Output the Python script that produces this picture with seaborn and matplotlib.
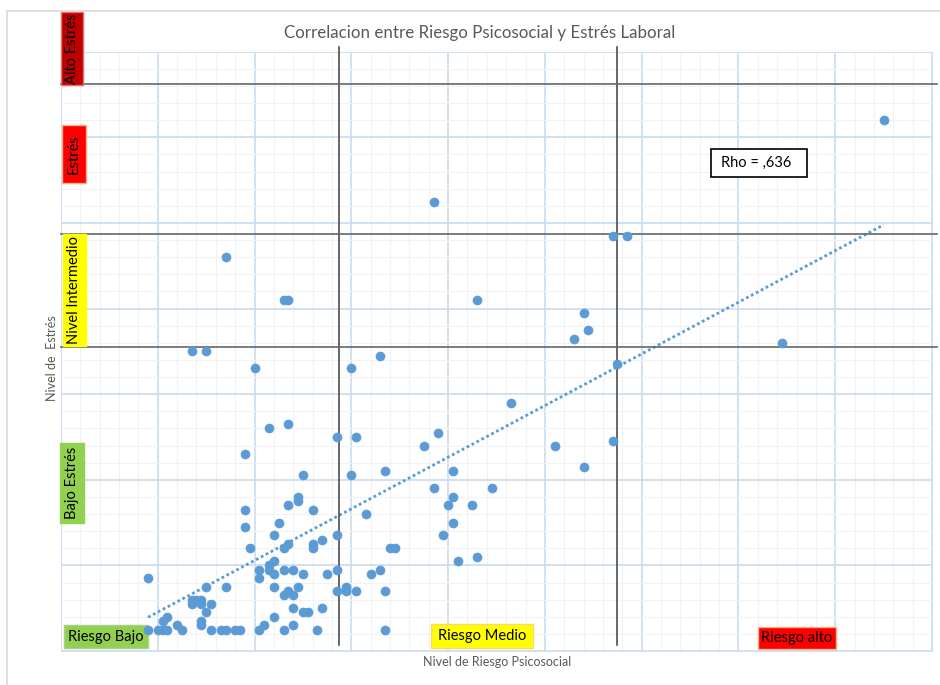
import numpy as np
import pandas as pd
import seaborn as sns
import matplotlib.pyplot as plt
from matplotlib.patches import Rectangle

# nivel de riesgo psicosocial (x) y nivel de estres (y)
riesgo = [170, 77, 114, 117, 34, 46, 47, 86, 108, 109, 106, 149, 27, 30, 66, 40, 60, 115,
          93, 43, 47, 57, 61, 78, 75, 102, 114, 38, 81, 108, 67, 60, 50, 77, 89, 49, 49, 81,
          47, 80, 85, 38, 52, 63, 45, 81, 38, 44, 57, 79, 47, 46, 52, 52, 54, 39, 68, 69,
          82, 86, 41, 41, 43, 43, 44, 44, 46, 48, 50, 55, 57, 64, 66, 18, 30, 34, 44, 49,
          46, 47, 48, 57, 59, 59, 61, 67, 27, 28, 29, 27, 29, 31, 30, 22, 21, 29, 29, 24,
          44, 48, 48, 50, 51, 54, 42,
          18, 20, 21, 22, 25, 31, 33, 34, 36, 37, 41, 46, 53, 67]
estres = [124, 105, 97, 97, 92, 82, 82, 82, 79, 75, 73, 72, 70, 70, 69, 66, 66, 67,
          58, 52, 53, 50, 50, 51, 48, 48, 49, 46, 42, 43, 42, 41, 41, 38, 38, 36, 35, 36,
          34, 34, 34, 33, 33, 32, 30, 30, 29, 27, 27, 27, 25, 24, 25, 24, 26, 24, 24, 24,
          21, 22, 19, 17, 20, 19, 21, 18, 19, 19, 18, 18, 19, 18, 19, 17, 15, 15, 15, 15,
          13, 14, 13, 14, 15, 14, 14, 14, 12, 12, 12, 11, 11, 11, 9, 8, 7, 7, 6, 6,
          8, 6, 10, 9, 9, 10, 6,
          5, 5, 5, 5, 5, 5, 5, 5, 5, 5, 5, 5, 5, 5]

# cortes de riesgo (lineas verticales) y de estres (lineas horizontales)
cortes_riesgo = [57.5, 115]
cortes_estres = [132.5, 97.5, 71]

rho_texto = 'Rho = ,636'

df = pd.DataFrame({'riesgo': riesgo, 'estres': estres})

W, H = 940, 685
plt.rcParams['font.family'] = ['Lato', 'DejaVu Sans']
fig = plt.figure(figsize=(W / 100, H / 100), dpi=100)
ax = fig.add_axes([61 / W, 1 - 651 / H, (932 - 61) / W, (651 - 51.7) / H])

BLUE = '#5B9BD5'
sns.scatterplot(data=df, x='riesgo', y='estres', ax=ax, color=BLUE, s=42,
                edgecolor=BLUE, linewidth=0.5, zorder=6)
sns.regplot(data=df, x='riesgo', y='estres', ax=ax, scatter=False, ci=None, truncate=True,
            line_kws={'color': BLUE, 'ls': (0, (1, 1)), 'lw': 2})

ax.set_xlim(0, 180)
ax.set_ylim(0, 140)
ax.set_xticks(np.arange(0, 181, 20))
ax.set_xticks(np.arange(0, 181, 4), minor=True)
ax.set_yticks(np.arange(0, 141, 20))
ax.set_yticks(np.arange(0, 141, 4), minor=True)
ax.tick_params(which='both', length=0, labelbottom=False, labelleft=False)
ax.grid(which='major', color='#C9DBEF', lw=1.2, zorder=0)
ax.grid(which='minor', color='#F0F2F6', lw=0.8, zorder=0)
ax.set_axisbelow(True)
for s in ax.spines.values():
    s.set_color('#D3E1F2')
ax.set_xlabel('')
ax.set_ylabel('')

# lineas de corte
for c in cortes_riesgo:
    ax.plot([c, c], [1.5, 141], color='#4D4D4D', lw=1.2, clip_on=False, zorder=3)
for c in cortes_estres:
    ax.plot([0, 181], [c, c], color='#666666', lw=1.2, clip_on=False, zorder=3)


def box(x0, y0, x1, y1, fc, ec, text, rot=0, size=10.5):
    # caja de etiqueta en pixeles de la figura (y desde arriba)
    r = Rectangle((x0 / W, 1 - y1 / H), (x1 - x0) / W, (y1 - y0) / H, transform=fig.transFigure,
                  facecolor=fc, edgecolor=ec, lw=1, clip_on=False, zorder=4)
    ax.add_patch(r)
    ax.text((x0 + x1) / 2 / W, 1 - (y0 + y1) / 2 / H, text, transform=fig.transFigure,
            rotation=rot, ha='center', va='center', fontsize=size, color='black', zorder=5)


box(61, 12, 83, 85, '#C00000', '#E07070', 'Alto Estrés', 90)
box(62, 125, 86, 183, '#FF0000', '#F4B183', 'Estrés', 90)
box(63, 234, 86, 346, '#FFFF00', '#FFFF00', 'Nivel Intermedio', 90)
box(60, 443, 84, 523, '#92D050', '#92D050', 'Bajo Estrés', 90)
box(64, 625, 148, 648, '#92D050', '#A9D18E', 'Riesgo Bajo')
box(431, 624, 533, 648, '#FFFF00', '#FFD966', 'Riesgo Medio')
box(758, 627, 836, 649, '#FF0000', '#F4B183', 'Riesgo alto')

# caja del coeficiente
ax.add_patch(Rectangle((711 / W, 1 - 177 / H), 96 / W, 28 / H, transform=fig.transFigure,
                       facecolor='white', edgecolor='black', lw=1.2, zorder=4))
ax.text(721 / W, 1 - 163 / H, rho_texto, transform=fig.transFigure, ha='left', va='center',
        fontsize=10.5, color='black', zorder=5)

fig.text(480 / W, 1 - 33 / H, 'Correlacion entre Riesgo Psicosocial y Estrés Laboral',
         ha='center', va='center', fontsize=12.2, color='#595959')
fig.text(497 / W, 1 - 662 / H, 'Nivel de Riesgo Psicosocial', ha='center', va='center',
         fontsize=9, color='#595959')
fig.text(52 / W, 1 - 358 / H, 'Nivel de  Estrés', ha='center', va='center', rotation=90,
         fontsize=9, color='#595959')

# borde del area del grafico
fig.add_artist(Rectangle((7 / W, -0.01), 1, 1 - 10.7 / H + 0.01, transform=fig.transFigure,
                         facecolor='none', edgecolor='#D9D9D9', lw=1.2))

fig.savefig('out.png', dpi=100, facecolor='white')
